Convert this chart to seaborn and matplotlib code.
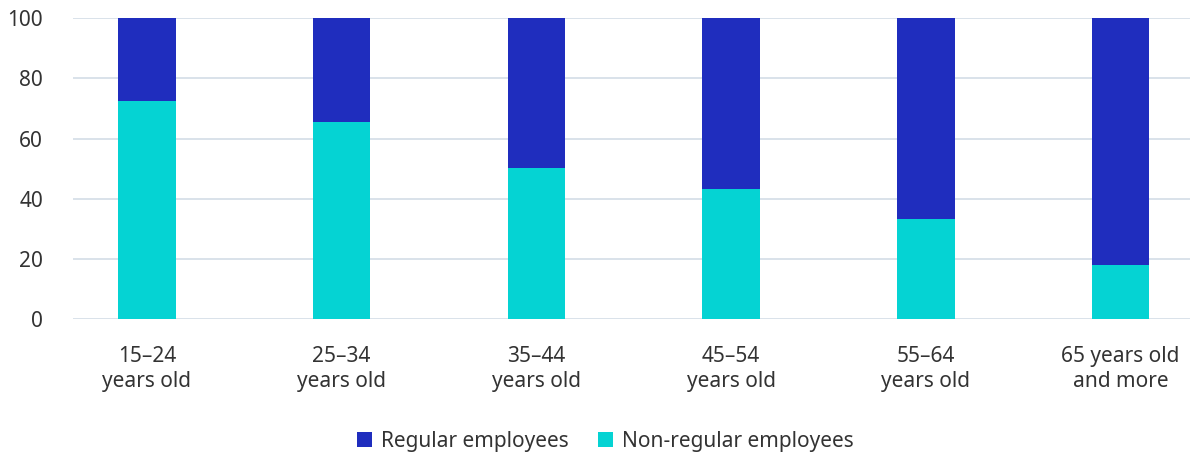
import seaborn as sns
import matplotlib.pyplot as plt
import pandas as pd

# Data (shares in %)
age_groups = ["15–24\nyears old", "25–34\nyears old", "35–44\nyears old",
              "45–54\nyears old", "55–64\nyears old", "65 years old\nand more"]
non_regular = [72.5, 65.4, 50.2, 43.2, 33.2, 17.9]
regular = [27.5, 34.6, 49.8, 56.8, 66.8, 82.1]
series_names = ["Regular employees", "Non-regular employees"]
series_colors = ["#1f2dbe", "#05d3d3"]

df = pd.DataFrame({"age": age_groups, "non_regular": non_regular, "regular": regular})
df["total"] = df["non_regular"] + df["regular"]

sns.set_style("white")
plt.rcParams["font.family"] = ["Noto Sans", "DejaVu Sans"]
text_color = "#333333"

fig, ax = plt.subplots(figsize=(11.92, 4.54), dpi=100)
fig.subplots_adjust(left=0.0612, right=0.998, top=0.960, bottom=0.297)

# stacked bars: full height in blue, non-regular part drawn over it
sns.barplot(data=df, x="age", y="total", color=series_colors[0], width=0.295,
            saturation=1, linewidth=0, ax=ax, label=series_names[0], zorder=2)
sns.barplot(data=df, x="age", y="non_regular", color=series_colors[1], width=0.295,
            saturation=1, linewidth=0, ax=ax, label=series_names[1], zorder=3)

ax.set_ylim(0, 100)
ax.set_xlim(-0.38, 5.355)
ax.set_yticks(range(0, 101, 20))
ax.yaxis.grid(True, color="#d3dde6", linewidth=1.2, zorder=0)
ax.set_axisbelow(True)
for s in ax.spines.values():
    s.set_visible(False)
ax.set_xlabel("")
ax.set_ylabel("")
ax.tick_params(axis="both", length=0, labelsize=15, colors=text_color)
ax.tick_params(axis="x", pad=19)
ax.tick_params(axis="y", pad=21.5)
for lbl in ax.get_yticklabels():
    lbl.set_horizontalalignment("right")
for lbl in ax.get_xticklabels():
    lbl.set_linespacing(1.3)

ax.legend(loc="upper center", bbox_to_anchor=(0.477, -0.308), ncol=2, frameon=False,
          fontsize=15, labelcolor=text_color, handlelength=0.7, handleheight=0.7,
          handletextpad=0.45, columnspacing=1.4)

plt.savefig("out.png", dpi=100)
